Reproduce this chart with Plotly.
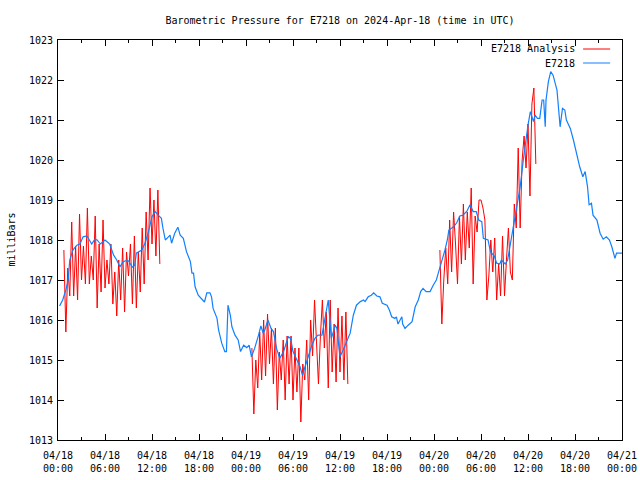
import plotly.graph_objects as go

# ---- data (hours since 2024-04-18 00:00 UTC) ----
obs_hours = [0.2, 0.6, 1.0, 1.3, 1.5, 1.9, 2.4, 2.8, 3.2, 3.7, 4.0, 4.3, 4.7, 5.0, 5.4, 6.0, 6.3, 6.6,
             7.1, 7.5, 7.9, 8.3, 8.6, 9.0, 9.5, 9.8, 10.0, 10.7, 11.1, 11.5, 12.0, 12.4, 12.8, 13.2,
             13.4, 13.7, 14.1, 14.3, 14.5, 14.9, 15.3, 15.6, 16.0, 16.4, 16.9, 17.1, 17.3, 17.5, 17.9,
             18.3, 18.7, 19.0, 19.4, 19.6, 19.8, 20.3, 20.5, 20.9, 21.3, 21.5, 21.6, 21.7, 22.0, 22.2,
             22.6, 23.0, 23.3, 23.7, 24.1, 24.4, 24.7, 25.1, 25.6, 25.9, 26.2, 26.4, 26.8, 27.2, 27.5,
             27.9, 28.3, 28.8, 29.1, 29.4, 29.7, 30.0, 30.5, 30.9, 31.2, 31.7, 32.0, 32.4, 32.8, 33.2,
             33.7, 34.1, 34.5, 34.9, 35.4, 35.6, 36.0, 36.4, 36.9, 37.3, 37.7, 38.1, 38.6, 39.0, 39.2,
             39.6, 40.0, 40.3, 40.7, 41.1, 41.4, 42.0, 42.3, 42.6, 43.0, 43.2, 43.4, 43.9, 44.0, 44.3,
             44.7, 45.2, 45.6, 46.0, 46.3, 46.6, 47.0, 47.5, 47.9, 48.3, 48.6, 49.0, 49.4, 49.7, 49.9,
             50.5, 50.9, 51.3, 51.7, 52.2, 52.6, 53.0, 53.4, 53.7, 54.1, 54.3, 54.9, 55.2, 55.7, 56.0,
             56.4, 56.6, 57.1, 57.4, 57.7, 58.1, 58.6, 59.0, 59.4, 59.7, 60.0, 60.3, 60.7, 60.9, 61.2,
             61.5, 61.8, 62.0, 62.2, 62.3, 62.6, 62.9, 63.2, 63.7, 63.9, 64.1, 64.4, 64.7, 64.9, 65.4,
             65.8, 66.2, 66.6, 67.0, 67.3, 67.6, 67.8, 68.1, 68.3, 68.8, 69.2, 69.6, 70.0, 70.4, 70.7,
             71.1, 71.3, 71.7, 72.0]
obs_mbar = [1016.35, 1016.5, 1016.75, 1017.0, 1017.5, 1017.75, 1017.87, 1017.9, 1018.08, 1018.1, 1018.0,
            1017.9, 1018.02, 1018.0, 1017.9, 1018.0, 1017.95, 1017.9, 1017.62, 1017.5, 1017.33, 1017.45,
            1017.48, 1017.48, 1017.32, 1017.37, 1017.67, 1017.75, 1017.92, 1018.17, 1018.58, 1018.71,
            1018.62, 1018.54, 1018.29, 1018.0, 1018.08, 1018.12, 1017.92, 1018.17, 1018.32, 1018.12,
            1018.04, 1017.71, 1017.46, 1017.17, 1017.17, 1016.83, 1016.62, 1016.52, 1016.45, 1016.68,
            1016.68, 1016.58, 1016.29, 1016.04, 1015.75, 1015.42, 1015.21, 1015.21, 1015.67, 1016.37,
            1016.12, 1015.83, 1015.62, 1015.5, 1015.21, 1015.37, 1015.31, 1015.37, 1015.08, 1015.29,
            1015.62, 1015.85, 1015.67, 1015.75, 1016.0, 1015.79, 1015.71, 1015.29, 1015.04, 1015.21,
            1015.4, 1015.58, 1015.54, 1015.21, 1015.0, 1014.83, 1014.62, 1014.96, 1015.12, 1015.37,
            1015.54, 1015.62, 1015.62, 1016.08, 1016.5, 1015.54, 1015.87, 1015.79, 1015.08, 1015.25,
            1015.5, 1015.67, 1016.12, 1016.37, 1016.46, 1016.5, 1016.46, 1016.58, 1016.62, 1016.68,
            1016.6, 1016.58, 1016.42, 1016.37, 1016.25, 1016.08, 1016.04, 1016.08, 1015.9, 1016.08,
            1015.9, 1015.79, 1015.87, 1015.96, 1016.33, 1016.5, 1016.71, 1016.79, 1016.71, 1016.71,
            1016.87, 1017.0, 1017.21, 1017.46, 1017.75, 1018.0, 1018.25, 1018.33, 1018.43, 1018.6,
            1018.62, 1018.72, 1018.88, 1018.71, 1018.71, 1018.5, 1018.46, 1018.04, 1018.0, 1017.71,
            1017.6, 1017.42, 1017.4, 1017.5, 1017.4, 1017.5, 1017.83, 1018.33, 1018.92, 1019.33,
            1020.0, 1020.5, 1020.87, 1021.21, 1020.96, 1021.12, 1021.04, 1021.04, 1021.5, 1021.5,
            1020.83, 1021.5, 1021.96, 1022.21, 1022.12, 1021.75, 1021.25, 1020.83, 1021.29, 1021.25,
            1021.0, 1020.79, 1020.5, 1020.12, 1019.83, 1019.58, 1019.71, 1019.33, 1018.88, 1018.92,
            1018.62, 1018.5, 1018.17, 1018.02, 1018.08, 1018.0, 1017.83, 1017.54, 1017.67, 1017.67,
            1017.67]

# analysis runs: start hour, 15-minute step values
ana1_start = 0.75
ana1_mbar = [1017.75, 1015.7, 1017.3, 1016.6, 1018.45, 1016.6, 1017.85, 1016.5, 1018.65, 1017.0,
             1017.85, 1016.9, 1018.8, 1016.9, 1017.6, 1017.0, 1018.6, 1016.3, 1017.9, 1016.7,
             1018.5, 1016.8, 1017.5, 1016.9, 1017.9, 1016.4, 1017.2, 1016.1, 1017.5, 1016.5,
             1017.8, 1016.2, 1017.7, 1017.1, 1017.9, 1016.4, 1018.1, 1016.3, 1017.7, 1016.7,
             1018.3, 1016.9, 1018.7, 1017.5, 1019.3, 1017.9, 1019.0, 1017.6, 1019.25, 1017.4]
ana2_start = 24.75
ana2_mbar = [1015.3, 1013.65, 1015.0, 1014.3, 1015.7, 1014.5, 1016.0, 1014.6, 1016.15, 1014.9,
             1015.8, 1014.4, 1015.8, 1013.75, 1015.2, 1014.5, 1015.5, 1014.0, 1015.6, 1014.4,
             1015.6, 1014.0, 1015.3, 1014.2, 1015.3, 1013.45, 1014.9, 1014.5, 1015.5, 1014.0,
             1016.0, 1015.1, 1016.5, 1015.4, 1014.4, 1015.6, 1016.5, 1015.3, 1016.2, 1014.3,
             1016.5, 1014.7, 1015.9, 1014.45, 1016.3, 1014.7, 1016.1, 1014.5, 1016.2, 1014.4]
ana3_start = 48.75
ana3_mbar = [1017.75, 1015.9, 1017.0, 1017.8, 1016.9, 1018.5, 1017.2, 1018.7, 1017.9, 1016.9,
             1018.6, 1017.4, 1018.9, 1017.5, 1018.7, 1017.8, 1019.3, 1016.9, 1018.6, 1018.2,
             1019.0, 1019.0, 1018.8, 1018.5, 1016.5, 1017.1, 1018.0, 1017.2, 1018.05, 1016.5,
             1017.4, 1016.6, 1018.1, 1016.6, 1017.5, 1018.3, 1017.2, 1017.0, 1018.9, 1018.3,
             1020.3, 1018.3, 1020.0, 1020.6, 1019.8, 1020.9, 1019.1, 1021.4, 1021.8, 1019.9]
ana_step = 0.25

tick_hours = [0, 6, 12, 18, 24, 30, 36, 42, 48, 54, 60, 66, 72]
tick_labels = ["04/18<br>00:00", "04/18<br>06:00", "04/18<br>12:00", "04/18<br>18:00",
               "04/19<br>00:00", "04/19<br>06:00", "04/19<br>12:00", "04/19<br>18:00",
               "04/20<br>00:00", "04/20<br>06:00", "04/20<br>12:00", "04/20<br>18:00",
               "04/21<br>00:00"]

# ---- build analysis trace with gaps ----
ana_x, ana_y = [], []
for start, vals in [(ana1_start, ana1_mbar), (ana2_start, ana2_mbar), (ana3_start, ana3_mbar)]:
    for i, v in enumerate(vals):
        ana_x.append(start + i * ana_step)
        ana_y.append(v)
    ana_x.append(None)
    ana_y.append(None)

RED = "#ff0000"
BLUE = "#1080ff"
FONT = "DejaVu Sans Mono"

fig = go.Figure()
fig.add_trace(go.Scatter(x=ana_x, y=ana_y, mode="lines", line=dict(color=RED, width=1),
                         name="E7218 Analysis", connectgaps=False))
fig.add_trace(go.Scatter(x=obs_hours, y=obs_mbar, mode="lines", line=dict(color=BLUE, width=1.2),
                         name="E7218"))

fig.update_layout(
    width=640, height=480,
    margin=dict(l=58, r=18, t=40, b=40, autoexpand=False),
    paper_bgcolor="white", plot_bgcolor="white",
    showlegend=False,
    font=dict(family=FONT, size=10, color="black"),
    title=dict(text="Barometric Pressure for E7218 on 2024-Apr-18 (time in UTC)",
               xref="paper", x=0.5, xanchor="center", y=0.958, yanchor="middle",
               font=dict(family=FONT, size=10, color="black")),
)
fig.update_xaxes(range=[0, 72], tickvals=tick_hours, ticktext=tick_labels, automargin=False,
                 ticks="inside", ticklen=6, tickcolor="black", showgrid=False, zeroline=False,
                 showline=True, linecolor="black", linewidth=1, mirror="allticks",
                 minor=dict(dtick=3, tick0=0, ticks="inside", ticklen=3, tickcolor="black"),
                 tickfont=dict(family=FONT, size=10), ticklabelstandoff=6)
fig.update_yaxes(range=[1013, 1023], dtick=1, tick0=1013, automargin=False,
                 ticks="inside", ticklen=6, tickcolor="black", showgrid=False, zeroline=False,
                 showline=True, linecolor="black", linewidth=1, mirror="allticks",
                 tickfont=dict(family=FONT, size=10), ticklabelstandoff=2, showticklabels=True)

# y-axis title placed at the original position
fig.add_annotation(text="milliBars", xref="paper", yref="paper", x=-0.084, y=0.5,
                   xanchor="center", yanchor="middle", textangle=-90, showarrow=False,
                   font=dict(family=FONT, size=10, color="black"))

# legend drawn to match the original (label left of sample)
for i, (lab, col) in enumerate([("E7218 Analysis", RED), ("E7218", BLUE)]):
    yp = 0.9775 - i * 0.035
    fig.add_annotation(text=lab, xref="paper", yref="paper", x=0.921, y=yp,
                       xanchor="right", yanchor="middle", showarrow=False,
                       font=dict(family=FONT, size=10, color="black"))
    fig.add_shape(type="line", xref="paper", yref="paper", x0=0.931, x1=0.979, y0=yp, y1=yp,
                  line=dict(color=col, width=1))

# remove the default page margin so the 640x480 figure fills the window exactly
fig.write_html("out.html",
               config={"displayModeBar": False, "staticPlot": True},
               post_script="document.body.style.margin='0px';document.body.style.overflow='hidden';")
